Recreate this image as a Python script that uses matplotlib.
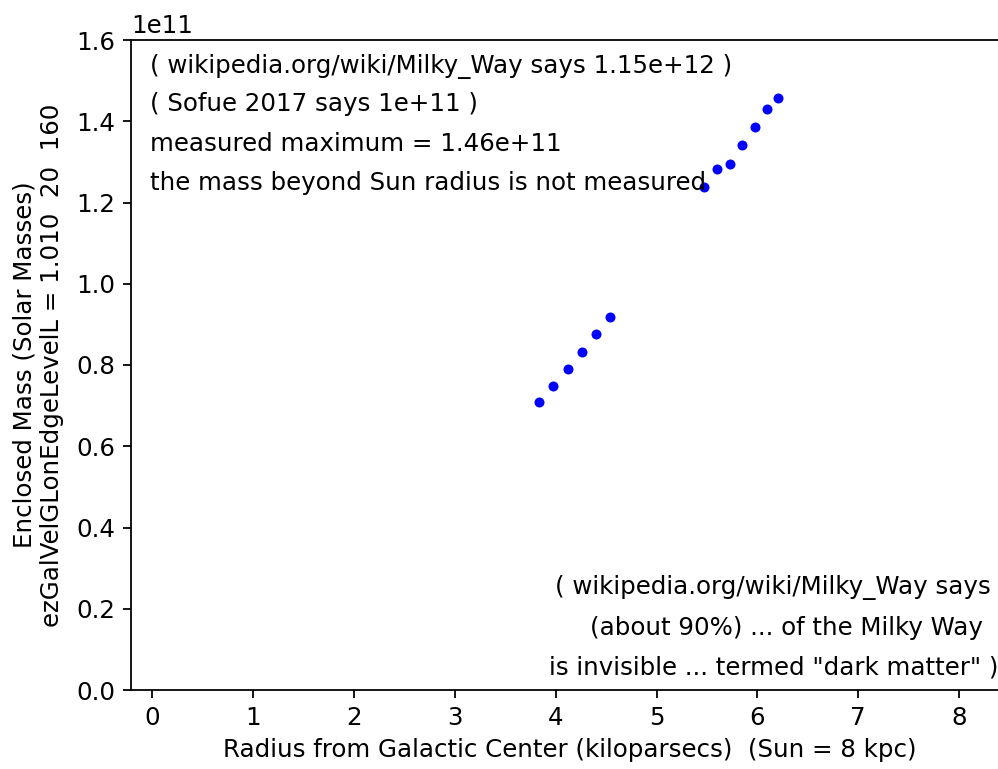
import matplotlib
matplotlib.use("Agg")
import matplotlib.pyplot as plt

# data
radius_inner = [3.838, 3.977, 4.123, 4.262, 4.397, 4.536]
mass_inner = [0.708e11, 0.748e11, 0.789e11, 0.831e11, 0.876e11, 0.919e11]
radius_outer = [5.471, 5.603, 5.725, 5.850, 5.976, 6.092, 6.207]
mass_outer = [1.237e11, 1.283e11, 1.296e11, 1.341e11, 1.386e11, 1.430e11, 1.458e11]

x_ticks = [0, 1, 2, 3, 4, 5, 6, 7, 8]
y_ticks = [0.0, 0.2e11, 0.4e11, 0.6e11, 0.8e11, 1.0e11, 1.2e11, 1.4e11, 1.6e11]

notes_upper = [
    "( wikipedia.org/wiki/Milky_Way says 1.15e+12 )",
    "( Sofue 2017 says 1e+11 )",
    "measured maximum = 1.46e+11",
    "the mass beyond Sun radius is not measured",
]
notes_lower = [
    "( wikipedia.org/wiki/Milky_Way says ",
    "(about 90%) ... of the Milky Way  ",
    "is invisible ... termed \"dark matter\" )",
]

W, H, DPI = 998, 769, 160
plt.rcParams['font.family'] = ['DejaVu Sans']
plt.rcParams['font.size'] = 11
fig = plt.figure(figsize=(W / DPI, H / DPI), dpi=DPI)

xmin, xmax = -0.21, 8.5
px0, pxunit = 152, 100.9
left_px = px0 + xmin * pxunit
right_px = px0 + xmax * pxunit
bottom_px, top_px = 690, 40
ax = fig.add_axes([left_px / W, (H - bottom_px) / H,
                   (right_px - left_px) / W, (bottom_px - top_px) / H])

ax.plot(radius_inner + radius_outer, mass_inner + mass_outer, 'o',
        color='blue', markersize=4.5, markeredgewidth=0)

ax.set_xlim(xmin, xmax)
ax.set_ylim(0, 1.6e11)
ax.set_xticks(x_ticks)
ax.set_yticks(y_ticks)

ax.set_xlabel("Radius from Galactic Center (kiloparsecs)  (Sun = 8 kpc)")
ax.set_ylabel("Enclosed Mass (Solar Masses)\nezGalVelGLonEdgeLevelL = 1.010  20  160",
              labelpad=5.5)

upper_y = [1.535e11, 1.442e11, 1.344e11, 1.248e11]
for s, yv in zip(notes_upper, upper_y):
    ax.text(-0.02, yv, s, ha='left', va='center')

lower_y = [0.252e11, 0.152e11, 0.055e11]
for s, yv in zip(notes_lower, lower_y):
    ax.text(8.39, yv, s, ha='right', va='center')

fig.savefig("out.png", dpi=DPI)
